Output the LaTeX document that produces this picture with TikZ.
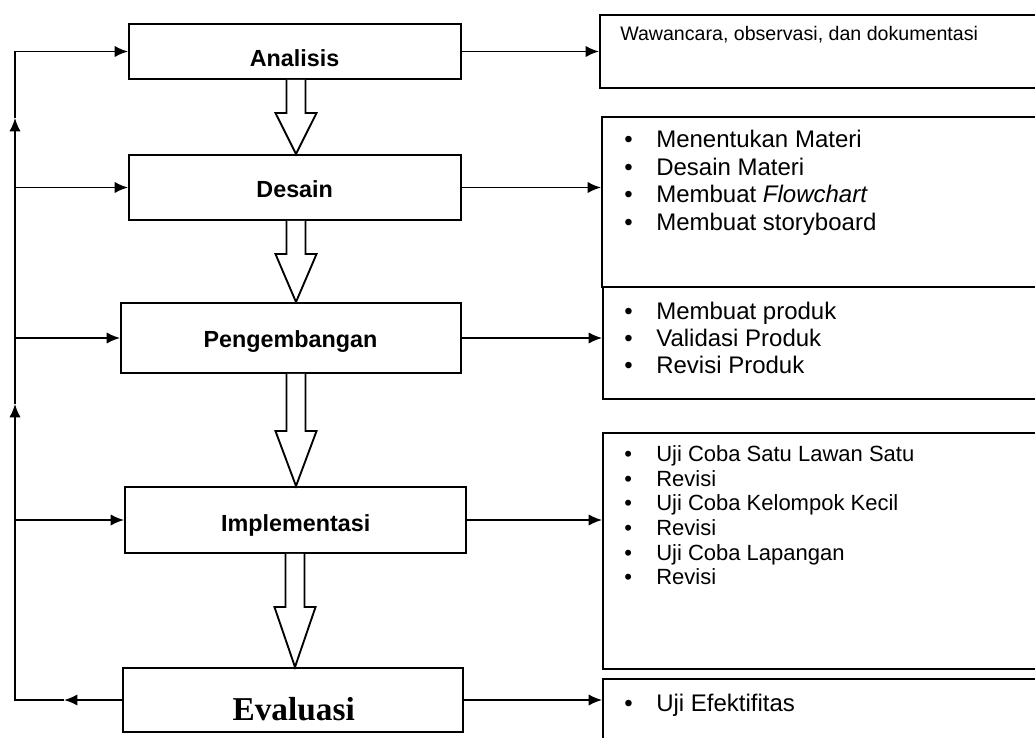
\documentclass[tikz,border=0pt]{standalone}
\usepackage{fontspec}
\setmainfont{Liberation Sans}
\newfontfamily\timesf{Liberation Serif}
\usetikzlibrary{fit,calc,arrows.meta}
\newcommand\bul{\makebox[24pt][l]{\textbullet}}
\newcommand\hollowarrow[4]{%
  \draw[hollowarr] let \p1=(#1.south), \p2=(#2.north) in
    ({#3*0.75pt-7.1pt},\y1) -- ({#3*0.75pt-7.1pt},{\y2+#4*0.75pt})
    -- ({#3*0.75pt-15.4pt},{\y2+#4*0.75pt}) -- ({#3*0.75pt},\y2)
    -- ({#3*0.75pt+15.4pt},{\y2+#4*0.75pt}) -- ({#3*0.75pt+7.1pt},{\y2+#4*0.75pt})
    -- ({#3*0.75pt+7.1pt},\y1);}
\begin{document}
\begin{tikzpicture}[x=0.75pt,y=-0.75pt,
  box/.style={draw, line width=1.45pt, inner sep=0pt},
  lbl/.style={anchor=base, inner sep=0pt, font=\fontsize{17.5}{20}\selectfont\bfseries},
  conn/.style={line width=1.4pt, -{Latex[length=10pt,width=8.5pt]}},
  hollowarr/.style={draw, line width=1.4pt, fill=white, line join=miter},
  item/.style={anchor=base west, inner sep=0pt, font=\fontsize{18}{20}\selectfont},
  itemsm/.style={item, font=\fontsize{16.5}{19}\selectfont},
]
\useasboundingbox (0,0) rectangle (1035,738);
\clip (0,0) rectangle (1035,738);

% left boxes
\node[box, fit={(129,24) (461,79)}] (ana) {};
\node[box, fit={(129,155) (461,220)}] (des) {};
\node[box, fit={(121,303) (461,373)}] (pen) {};
\node[box, fit={(125,487) (466,553)}] (imp) {};
\node[box, fit={(123,668) (463,732)}] (eva) {};

\node[lbl] (anat) at (294.5,66.5) {Analisis};
\node[lbl] (dest) at (294.7,198) {Desain};
\node[lbl] (pent) at (290.5,347.7) {Pengembangan};
\node[lbl] (impt) at (295.8,531.7) {Implementasi};
\node[anchor=base, inner sep=0pt, font=\timesf\fontsize{25}{29}\selectfont\bfseries] (evat) at (293.7,720.7) {Evaluasi};

% right boxes
\node[box, fit={(600,15) (1050,88)}] (r1) {};
\node[box, fit={(602,117) (1050,287)}] (r2) {};
\node[box, fit={(603,287) (1050,399)}] (r3) {};
\node[box, fit={(603,433) (1050,669)}] (r4) {};
\node[box, fit={(603,679) (1050,770)}] (r5) {};

\node[anchor=base west, inner sep=0pt, font=\fontsize{14.7}{17}\selectfont] (r1t) at (620,41) {Wawancara, observasi, dan dokumentasi};

\node[item] (d1) at (624,148) {\bul Menentukan Materi};
\node[item] (d2) at (624,175.3) {\bul Desain Materi};
\node[item] (d3) at (624,202.6) {\bul Membuat \textit{Flowchart}};
\node[item] (d4) at (624,230) {\bul Membuat storyboard};

\node[item] (p1) at (624,319) {\bul Membuat produk};
\node[item] (p2) at (624,346) {\bul Validasi Produk};
\node[item] (p3) at (624,373) {\bul Revisi Produk};

\node[itemsm] (i1) at (624,461.7) {\bul Uji Coba Satu Lawan Satu};
\node[itemsm] (i2) at (624,486) {\bul Revisi};
\node[itemsm] (i3) at (624,510.7) {\bul Uji Coba Kelompok Kecil};
\node[itemsm] (i4) at (624,535.7) {\bul Revisi};
\node[itemsm] (i5) at (624,560.7) {\bul Uji Coba Lapangan};
\node[itemsm] (i6) at (624,584.5) {\bul Revisi};

\node[item] (e1) at (624,711) {\bul Uji Efektifitas};

% right arrows
\draw[conn] (ana.east) -- (ana.east -| r1.west);
\draw[conn] (des.east) -- (des.east -| r2.west);
\draw[conn] (pen.east) -- (pen.east -| r3.west);
\draw[conn] (imp.east) -- (imp.east -| r4.west);
\draw[conn] (eva.east) -- (eva.east -| r5.west);

% hollow block arrows
\hollowarrow{ana}{des}{296}{41}
\hollowarrow{des}{pen}{296}{48}
\hollowarrow{pen}{imp}{296}{55}
\hollowarrow{imp}{eva}{295}{60}

% feedback loop
\coordinate (lx) at (15,0);
\path (eva.west) ++(-58,0) coordinate (ea);
\coordinate (u1) at (15,404);
\coordinate (u2) at (15,118);
\draw[conn] (eva.west) -- (ea);
\draw[conn] (ea) -- (ea -| lx) -- (u1);
\draw[conn] (u1) -- (u2);
\draw[conn] (u2) -- (ana.west -| lx) -- (ana.west);
\draw[conn] (des.west -| lx) -- (des.west);
\draw[conn] (pen.west -| lx) -- (pen.west);
\draw[conn] (imp.west -| lx) -- (imp.west);
\end{tikzpicture}
\end{document}
